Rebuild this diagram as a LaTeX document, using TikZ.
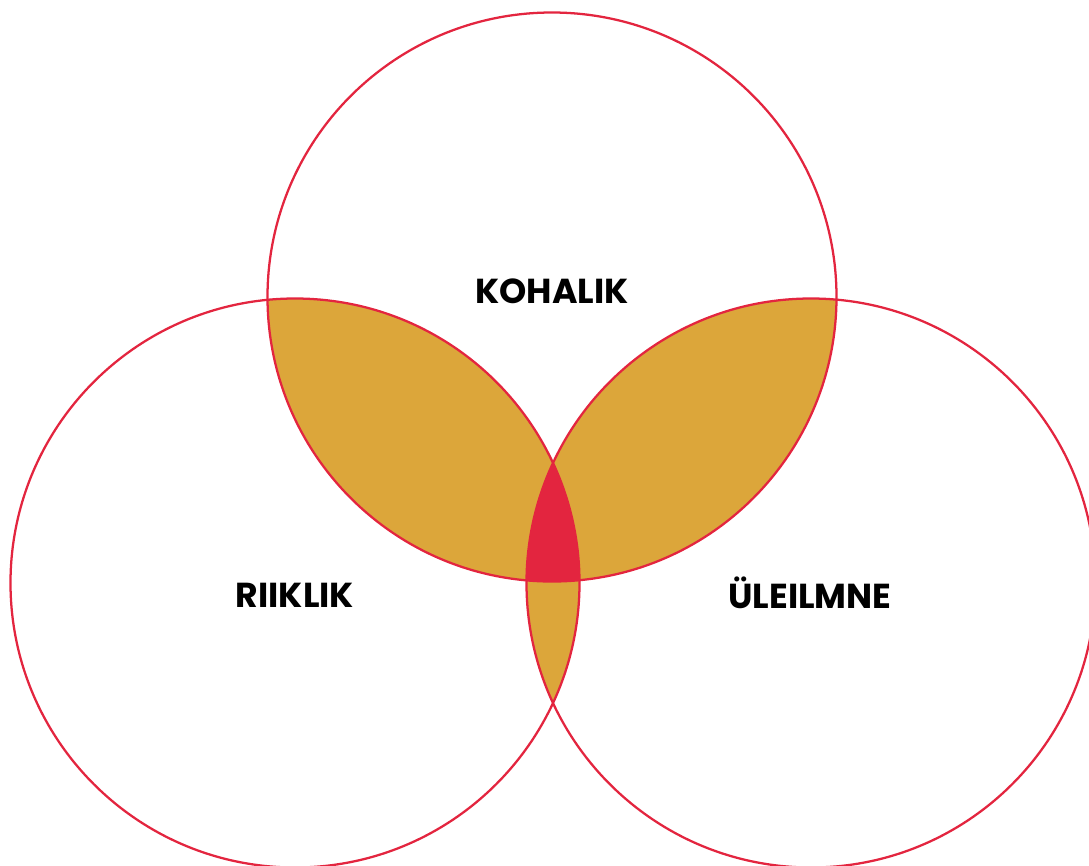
\documentclass[tikz,border=0pt]{standalone}
\usepackage{fontspec}
\setmainfont{Poppins}
\definecolor{vred}{HTML}{E3253F}
\definecolor{vgold}{HTML}{DCA63A}
\begin{document}
\begin{tikzpicture}[x=0.75pt,y=-0.75pt,
  ring/.style={draw=vred,line width=1.7pt},
  lbl/.style={font=\fontsize{26}{30}\selectfont\bfseries,text=black}]
\useasboundingbox (0,0) rectangle (1089,865);
\clip (0,0) rectangle (1089,865);
\coordinate (T) at (552,297);
\coordinate (L) at (295,583);
\coordinate (R) at (811,583);
\def\rad{284.5}
% pairwise intersections in gold
\begin{scope}
  \clip (T) circle (\rad);
  \fill[vgold] (L) circle (\rad);
  \fill[vgold] (R) circle (\rad);
\end{scope}
\begin{scope}
  \clip (L) circle (\rad);
  \fill[vgold] (R) circle (\rad);
\end{scope}
% triple intersection in red
\begin{scope}
  \clip (T) circle (\rad);
  \clip (L) circle (\rad);
  \fill[vred] (R) circle (\rad);
\end{scope}
\draw[ring] (T) circle (\rad);
\draw[ring] (L) circle (\rad);
\draw[ring] (R) circle (\rad);
\node[lbl] (kohalik) at (552,291) {KOHALIK};
\node[lbl] (riiklik) at (295,595) {RIIKLIK};
\node[lbl] (uleilmne) at (810,593) {ÜLEILMNE};
\end{tikzpicture}
\end{document}
